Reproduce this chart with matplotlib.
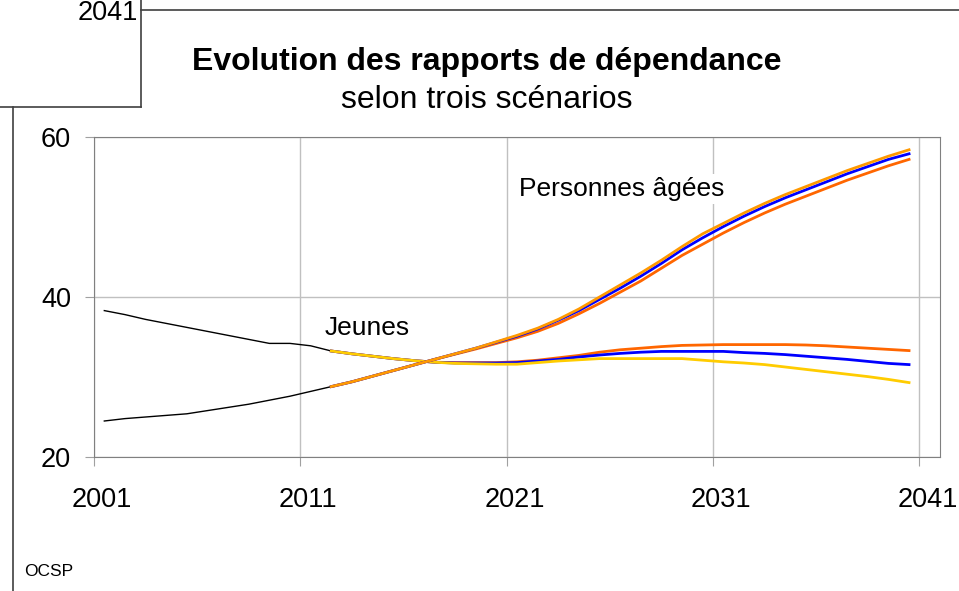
import matplotlib
matplotlib.use("Agg")
import matplotlib.pyplot as plt
from matplotlib.lines import Line2D
from matplotlib.transforms import ScaledTranslation

plt.rcParams['font.family'] = ['Liberation Sans', 'DejaVu Sans']

# historical values (2001-2012)
hist_years = list(range(2001, 2013))
jeunes_hist = [38.3, 37.8, 37.2, 36.7, 36.2, 35.7, 35.2, 34.7, 34.2, 34.2, 33.9, 33.25]
agees_hist = [24.5, 24.8, 25.0, 25.2, 25.4, 25.8, 26.2, 26.6, 27.1, 27.6, 28.2, 28.8]

# projections (2012-2040), three scenarios
proj_years = list(range(2012, 2041))
jeunes_haut = [33.25, 32.9, 32.6, 32.3, 32.05, 31.85, 31.8, 31.8, 31.8,
               31.9, 32.1, 32.4, 32.7, 33.1, 33.4, 33.6, 33.8, 33.95, 34.0,
               34.05, 34.05, 34.05, 34.05, 34.0, 33.9, 33.75, 33.6, 33.45, 33.3]
jeunes_central = [33.25, 32.9, 32.6, 32.3, 32.05, 31.85, 31.75, 31.75, 31.75,
                  31.8, 32.0, 32.2, 32.5, 32.75, 32.95, 33.1, 33.2, 33.2, 33.2,
                  33.2, 33.05, 32.95, 32.8, 32.6, 32.4, 32.2, 31.95, 31.7, 31.55]
jeunes_bas = [33.25, 32.9, 32.6, 32.3, 32.05, 31.85, 31.7, 31.65, 31.6,
              31.6, 31.8, 32.0, 32.15, 32.3, 32.3, 32.3, 32.3, 32.3, 32.1,
              31.9, 31.75, 31.55, 31.25, 30.95, 30.65, 30.35, 30.05, 29.7, 29.3]
agees_haut = [28.8, 29.4, 30.1, 30.8, 31.5, 32.2, 32.9, 33.6, 34.4,
              35.2, 36.1, 37.2, 38.5, 40.0, 41.5, 43.0, 44.6, 46.3, 47.9,
              49.2, 50.5, 51.7, 52.8, 53.8, 54.8, 55.8, 56.7, 57.6, 58.4]
agees_central = [28.8, 29.4, 30.1, 30.8, 31.5, 32.2, 32.9, 33.6, 34.35,
                 35.1, 36.0, 37.1, 38.3, 39.7, 41.1, 42.6, 44.2, 45.9, 47.4,
                 48.8, 50.1, 51.3, 52.4, 53.4, 54.4, 55.4, 56.3, 57.2, 57.9]
agees_bas = [28.8, 29.4, 30.1, 30.8, 31.5, 32.2, 32.85, 33.5, 34.2,
             34.9, 35.7, 36.7, 37.9, 39.2, 40.6, 42.0, 43.6, 45.2, 46.6,
             48.0, 49.3, 50.5, 51.6, 52.6, 53.6, 54.6, 55.5, 56.4, 57.2]

tick_years = [2001, 2011, 2021, 2031, 2041]
y_ticks = [20, 40, 60]

fig = plt.figure(figsize=(9.59, 5.91), dpi=100)
ax = fig.add_axes([94 / 959, 1 - 457 / 591, 846 / 959, 320 / 591])


def xs(years):
    # points sit in the middle of each yearly category
    return [y + 0.5 for y in years]


ax.plot(xs(hist_years), jeunes_hist, c='black', lw=1)
ax.plot(xs(hist_years), agees_hist, c='black', lw=1)

ax.plot(xs(proj_years), jeunes_haut, c='#FF6600', lw=2)
ax.plot(xs(proj_years), jeunes_central, c='#0000FF', lw=2)
ax.plot(xs(proj_years), jeunes_bas, c='#FFCC00', lw=2)
ax.plot(xs(proj_years), agees_bas, c='#FF6600', lw=2)
ax.plot(xs(proj_years), agees_central, c='#0000FF', lw=2)
ax.plot(xs(proj_years), agees_haut, c='#FF9900', lw=2)

ax.set_xlim(2001, 2042)
ax.set_ylim(20, 60)
ax.set_xticks(tick_years)
ax.set_xticklabels([str(t) for t in tick_years])
ax.set_yticks(y_ticks)
ax.grid(True, color='#C0C0C0', lw=1)
ax.set_axisbelow(True)
for s in ax.spines.values():
    s.set_color('#808080')
ax.tick_params(axis='both', direction='out', length=6.5, color='#A0A0A0',
               labelsize=19.5)
ax.tick_params(axis='x', pad=15)
ax.tick_params(axis='y', pad=10)

# year labels sit a little to the right of their gridline
shift = ScaledTranslation(8 / 100, 0, fig.dpi_scale_trans)
for lab in ax.get_xticklabels():
    lab.set_transform(lab.get_transform() + shift)

ax.text(2012.2, 35.2, "Jeunes", fontsize=19)
ax.text(2021.6, 52.6, "Personnes âgées", fontsize=19,
        bbox=dict(fc='white', ec='none', pad=2))

fig.text(487 / 959, 1 - 70 / 591, "Evolution des rapports de dépendance",
         ha='center', va='baseline', fontsize=23, fontweight='bold')
fig.text(487 / 959, 1 - 108 / 591, "selon trois scénarios",
         ha='center', va='baseline', fontsize=23)
fig.text(138 / 959, 1 - 13 / 591, "2041", ha='right', va='center', fontsize=19.5)
fig.text(24 / 959, 1 - 576 / 591, "OCSP", ha='left', va='baseline', fontsize=12.5)

# outer frame pieces
frame_c = '#404040'
fig.add_artist(Line2D([141 / 959, 141 / 959], [1, 1 - 107 / 591],
                      transform=fig.transFigure, c=frame_c, lw=1.2))
fig.add_artist(Line2D([0, 141 / 959], [1 - 107 / 591, 1 - 107 / 591],
                      transform=fig.transFigure, c=frame_c, lw=1.2))
fig.add_artist(Line2D([141 / 959, 1], [1 - 10 / 591, 1 - 10 / 591],
                      transform=fig.transFigure, c=frame_c, lw=1.2))
fig.add_artist(Line2D([13 / 959, 13 / 959], [1 - 107 / 591, 0],
                      transform=fig.transFigure, c=frame_c, lw=1.2))

plt.savefig('out.png', dpi=100)
